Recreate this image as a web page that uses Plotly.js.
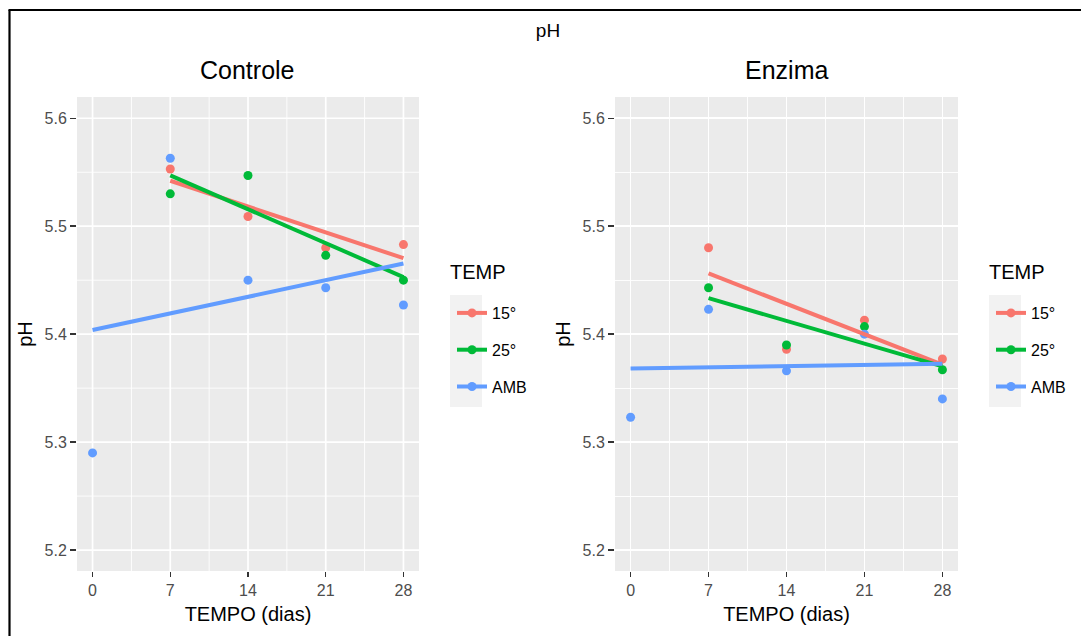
<!DOCTYPE html>
<html><head><meta charset="utf-8">
<script src="https://cdn.plot.ly/plotly-3.0.1.min.js"></script>
<style>
html,body{margin:0;padding:0;background:#fff;} #chart{width:1081px;height:636px;}
.js-plotly-plot .plotly .xgrid, .js-plotly-plot .plotly .ygrid { shape-rendering: geometricPrecision !important; }
</style>
</head><body><div id="chart"></div>
<script>
// ---- data ----
const daysAll = [0, 7, 14, 21, 28];
const daysFrom7 = [7, 14, 21, 28];
const minorDays = [3.5, 10.5, 17.5, 24.5];
const tempGroups = ['15°', '25°', 'AMB'];
const panelNames = ['Controle', 'Enzima'];
const controle15 = [5.553, 5.509, 5.480, 5.483];
const controle25 = [5.530, 5.547, 5.473, 5.450];
const controleAMB = [5.290, 5.563, 5.450, 5.443, 5.427];
const enzima15 = [5.480, 5.386, 5.413, 5.377];
const enzima25 = [5.443, 5.390, 5.407, 5.367];
const enzimaAMB = [5.323, 5.423, 5.366, 5.400, 5.340];
const groupColors = ['#F8766D', '#00BA38', '#619CFF'];

const W = 1081, H = 636;
const px = v => v / W, py = v => 1 - v / H;
const FONT = 'Liberation Sans, Arial, sans-serif';

// least-squares line (geom_smooth(method = "lm", se = FALSE)) over the group's x span
function linFit(xs, ys) {
  const n = xs.length;
  const mx = xs.reduce((a, b) => a + b, 0) / n;
  const my = ys.reduce((a, b) => a + b, 0) / n;
  let sxy = 0, sxx = 0;
  for (let i = 0; i < n; i++) { sxy += (xs[i] - mx) * (ys[i] - my); sxx += (xs[i] - mx) ** 2; }
  const b = sxy / sxx, a = my - b * mx;
  const x0 = Math.min(...xs), x1 = Math.max(...xs);
  return { x: [x0, x1], y: [a + b * x0, a + b * x1] };
}

const panelData = [
  { xs: [daysFrom7, daysFrom7, daysAll], ys: [controle15, controle25, controleAMB], xa: 'x', ya: 'y', lg: 'legend' },
  { xs: [daysFrom7, daysFrom7, daysAll], ys: [enzima15, enzima25, enzimaAMB], xa: 'x2', ya: 'y2', lg: 'legend2' }
];

const traces = [];
panelData.forEach(p => {
  tempGroups.forEach((g, i) => {
    traces.push({ type: 'scatter', mode: 'markers', x: p.xs[i], y: p.ys[i], xaxis: p.xa, yaxis: p.ya,
      marker: { color: groupColors[i], size: 9 }, showlegend: false, name: g });
  });
  tempGroups.forEach((g, i) => {
    const f = linFit(p.xs[i], p.ys[i]);
    traces.push({ type: 'scatter', mode: 'lines', x: f.x, y: f.y, xaxis: p.xa, yaxis: p.ya,
      line: { color: groupColors[i], width: 4 }, showlegend: false, name: g });
  });
  tempGroups.forEach((g, i) => {
    traces.push({ type: 'scatter', mode: 'lines+markers', x: [null], y: [null], xaxis: p.xa, yaxis: p.ya,
      line: { color: groupColors[i], width: 4 }, marker: { color: groupColors[i], size: 9 },
      name: g, legend: p.lg, legendgroup: p.lg + g, showlegend: true });
  });
});

function xAxis(d0, d1, anchor) {
  return {
    domain: [px(d0), px(d1)], anchor: anchor, range: [-1.4, 29.4],
    tickmode: 'array', tickvals: daysAll, ticktext: daysAll.map(String),
    showgrid: true, gridcolor: '#FFFFFF', gridwidth: 1.7, zeroline: false, showline: false,
    ticks: 'outside', ticklen: 5, tickwidth: 1.5, tickcolor: '#333333',
    tickfont: { family: FONT, size: 16, color: '#4D4D4D' },
    minor: { tickmode: 'array', tickvals: minorDays, showgrid: true, gridcolor: '#FFFFFF', gridwidth: 0.9, ticks: '' },
    title: { text: 'TEMPO (dias)', font: { family: FONT, size: 20, color: '#000' }, standoff: 8 }
  };
}
function yAxis(anchor) {
  return {
    domain: [py(571), py(97)], anchor: anchor, range: [5.1806, 5.6197],
    tick0: 5.2, dtick: 0.1, tickformat: '.1f',
    showgrid: true, gridcolor: '#FFFFFF', gridwidth: 1.7, zeroline: false, showline: false,
    ticks: 'outside', ticklen: 6, tickwidth: 1.5, tickcolor: '#333333',
    tickfont: { family: FONT, size: 16, color: '#4D4D4D' },
    minor: { dtick: 0.05, tick0: 5.15, showgrid: true, gridcolor: '#FFFFFF', gridwidth: 0.9, ticks: '' },
    title: { text: 'pH', font: { family: FONT, size: 20, color: '#000' }, standoff: 6 }
  };
}
function legendCfg(xLeft) {
  return {
    x: px(xLeft), y: py(296), xanchor: 'left', yanchor: 'top',
    bgcolor: 'rgba(0,0,0,0)', borderwidth: 0,
    font: { family: FONT, size: 16, color: '#000' },
    traceorder: 'grouped', tracegroupgap: 13, itemwidth: 30
  };
}
const keyRect = x0 => ({ type: 'rect', xref: 'paper', yref: 'paper', x0: px(x0), x1: px(x0 + 32),
  y0: py(407), y1: py(295), fillcolor: '#F2F2F2', line: { width: 0 }, layer: 'below' });
const annText = (text, x, y, size) => ({ text, xref: 'paper', yref: 'paper', x: px(x), y: py(y),
  xanchor: 'left', yanchor: 'middle', showarrow: false, font: { family: FONT, size, color: '#000' } });

const layout = {
  width: W, height: H, margin: { l: 0, r: 0, t: 0, b: 0 },
  paper_bgcolor: '#FFFFFF', plot_bgcolor: '#EBEBEB',
  font: { family: FONT },
  title: { text: 'pH', x: px(548), xanchor: 'center', y: py(30), yanchor: 'middle', yref: 'paper',
    font: { family: FONT, size: 19, color: '#000' } },
  xaxis: xAxis(77, 419, 'y'), yaxis: yAxis('x'),
  xaxis2: xAxis(615, 958, 'y2'), yaxis2: yAxis('x2'),
  legend: legendCfg(452), legend2: legendCfg(991),
  annotations: panelNames.map((t, i) => ({
    text: t, xref: 'paper', yref: 'paper', x: px(i === 0 ? 247 : 786), y: py(70),
    xanchor: 'center', yanchor: 'middle', showarrow: false,
    font: { family: FONT, size: 25, color: '#000' }
  })).concat([annText('TEMP', 448, 272, 20), annText('TEMP', 987, 272, 20)]),
  shapes: [
    keyRect(450), keyRect(989),
    { type: 'line', xref: 'paper', yref: 'paper', x0: px(9.5), x1: px(9.5), y0: py(636), y1: py(10), line: { color: '#000', width: 2.2 } },
    { type: 'line', xref: 'paper', yref: 'paper', x0: px(8.5), x1: px(1081), y0: py(10), y1: py(10), line: { color: '#000', width: 2.2 } }
  ],
  showlegend: true
};

Plotly.newPlot('chart', traces, layout, { displayModeBar: false, staticPlot: true });
</script>
</body></html>
